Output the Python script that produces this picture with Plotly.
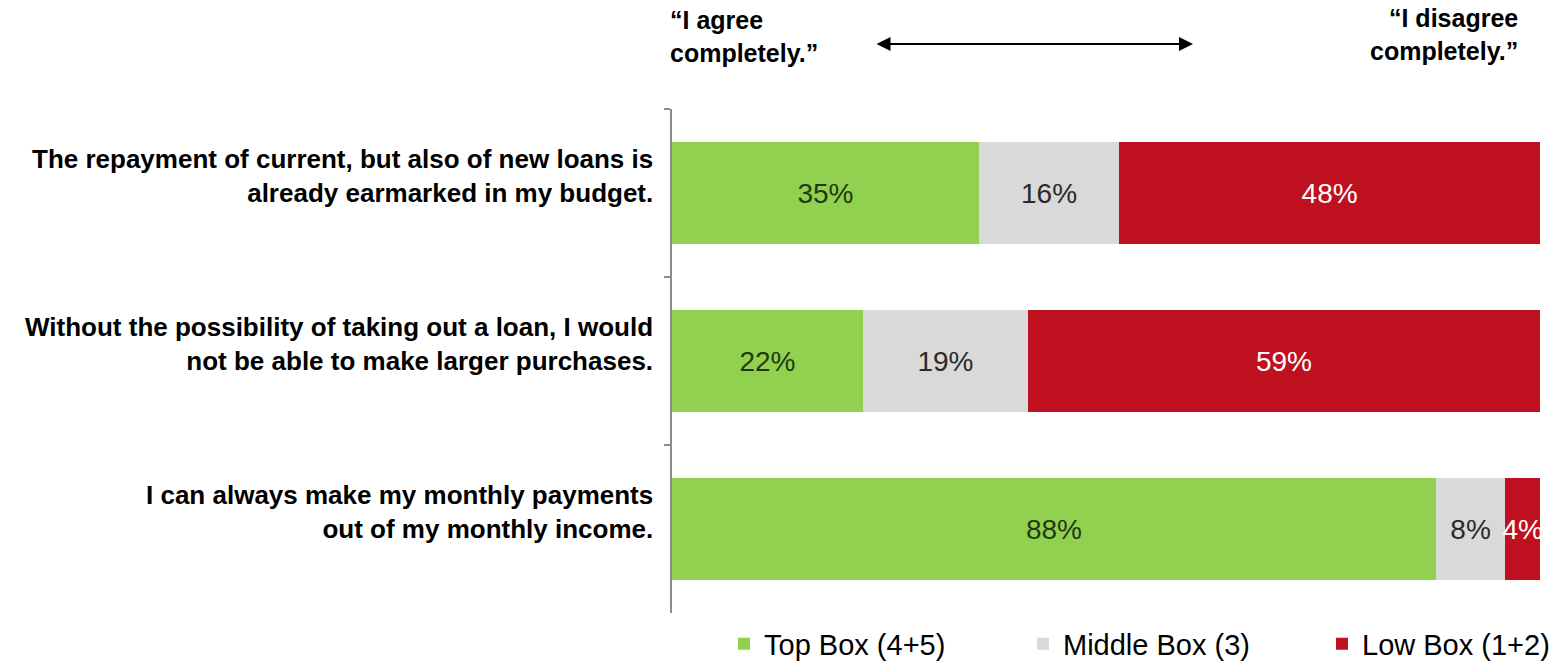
import plotly.graph_objects as go

# Survey statements (top to bottom) and answer shares per box
statements = [
    "The repayment of current, but also of new loans is<br>already earmarked in my budget.",
    "Without the possibility of taking out a loan, I would<br>not be able to make larger purchases.",
    "I can always make my monthly payments<br>out of my monthly income.",
]
series_names = ["Top Box (4+5)", "Middle Box (3)", "Low Box (1+2)"]
top_box = [35, 22, 88]
middle_box = [16, 19, 8]
low_box = [48, 59, 4]

colors = ["#92D050", "#D9D9D9", "#BF1020"]
text_colors = ["#1f3a10", "#2a2a2a", "#ffffff"]
FONT = "Liberation Sans, Arial, sans-serif"

W, H = 1565, 664
L, R, T, B = 672, 25, 109, 51
plot_w = W - L - R
plot_h = H - T - B


def px_x(px):
    return (px - L) / plot_w


def px_y(py):
    return (H - B - py) / plot_h


fig = go.Figure()
for name, vals, col, tcol in zip(series_names, [top_box, middle_box, low_box], colors, text_colors):
    fig.add_trace(go.Bar(
        y=statements,
        x=vals,
        orientation="h",
        name=name,
        marker=dict(color=col, line=dict(width=0)),
        text=[f"{v}%" for v in vals],
        texttemplate="%{text}",
        textposition="inside",
        insidetextanchor="middle",
        textangle=0,
        textfont=dict(family=FONT, size=28, color=tcol),
        cliponaxis=False,
    ))

annotations = []
# Statement labels to the left of the bars
for s in statements:
    annotations.append(dict(
        xref="paper", yref="y", x=0, y=s, xanchor="right", yanchor="middle",
        xshift=-17, yshift=17, align="right", showarrow=False, text=f"<b>{s}</b>",
        font=dict(family=FONT, size=26, color="#000000"),
    ))

# Scale end labels
annotations.append(dict(
    xref="paper", yref="paper", x=px_x(668), y=px_y(36), xanchor="left", yanchor="middle",
    align="left", showarrow=False, text="<b>“I agree<br>completely.”</b>",
    font=dict(family=FONT, size=25, color="#000000"),
))
annotations.append(dict(
    xref="paper", yref="paper", x=px_x(1520), y=px_y(34), xanchor="right", yanchor="middle",
    align="right", showarrow=False, text="<b>“I disagree<br>completely.”</b>",
    font=dict(family=FONT, size=25, color="#000000"),
))
# Double-headed arrow between the scale ends
annotations.append(dict(
    xref="paper", yref="paper", x=px_x(1193), y=px_y(44),
    ax=-318, ay=0, axref="pixel", ayref="pixel",
    text="", showarrow=True, arrowside="end+start",
    arrowhead=2, startarrowhead=2, arrowsize=1.4, startarrowsize=1.4,
    arrowwidth=2, arrowcolor="#000000", standoff=0, startstandoff=0,
))

fig.update_layout(
    width=W, height=H,
    margin=dict(l=L, r=R, t=T, b=B, pad=0, autoexpand=False),
    paper_bgcolor="#ffffff", plot_bgcolor="#ffffff",
    barmode="stack", barnorm="percent", bargap=0.39,
    uniformtext=dict(minsize=28, mode="show"),
    font=dict(family=FONT, color="#000000"),
    showlegend=True,
    legend=dict(
        orientation="h", x=px_x(671), y=px_y(644), xanchor="left", yanchor="middle",
        font=dict(family=FONT, size=29, color="#000000"),
        indentation=53, itemwidth=30,
        entrywidth=201, entrywidthmode="pixels",
        traceorder="normal", bgcolor="rgba(0,0,0,0)", borderwidth=0,
    ),
    annotations=annotations,
)
fig.update_xaxes(range=[0, 100], visible=False, fixedrange=True)
fig.update_yaxes(
    type="category", categoryorder="array", categoryarray=statements,
    autorange="reversed", showticklabels=False,
    showline=True, linecolor="#8c8c8c", linewidth=2,
    ticks="outside", tickson="boundaries", ticklen=6, tickcolor="#8c8c8c", tickwidth=2,
    showgrid=False, zeroline=False, fixedrange=True,
)

fig.write_html("out.html")
